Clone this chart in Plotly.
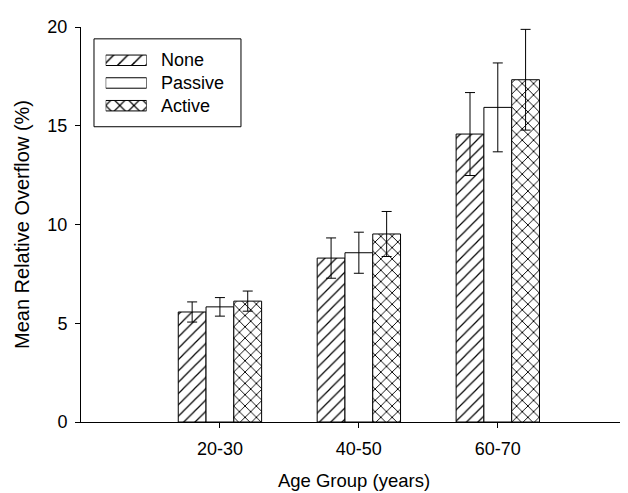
import plotly.graph_objects as go

age_groups = ["20-30", "40-50", "60-70"]
none_vals = [5.57, 8.30, 14.58]
none_err = [0.51, 1.02, 2.10]
passive_vals = [5.83, 8.57, 15.93]
passive_err = [0.47, 1.04, 2.25]
active_vals = [6.12, 9.52, 17.33]
active_err = [0.51, 1.14, 2.55]

series_names = ["None", "Passive", "Active"]
series_shapes = ["/", "", "x"]
series_solidity = [0.15, 0.15, 0.22]
series_vals = [none_vals, passive_vals, active_vals]
series_errs = [none_err, passive_err, active_err]

FONT = "Liberation Sans, Arial, Helvetica, sans-serif"

fig = go.Figure()
for name, vals, errs, shape, sol in zip(series_names, series_vals, series_errs,
                                        series_shapes, series_solidity):
    fig.add_trace(go.Bar(
        name=name, x=age_groups, y=vals, showlegend=False,
        marker=dict(color="white", line=dict(color="black", width=1),
                    pattern=dict(shape=shape, fgcolor="black", bgcolor="white",
                                 size=8, solidity=sol, fillmode="replace")),
        error_y=dict(type="data", array=errs, visible=True, color="black",
                     thickness=1, width=5),
    ))

# custom legend: swatches drawn as a small bar chart on secondary axes
fig.add_trace(go.Bar(
    x=[1, 1, 1], y=series_names, orientation="h", width=0.46,
    xaxis="x2", yaxis="y2", showlegend=False, hoverinfo="skip",
    marker=dict(color="white", line=dict(color="black", width=1),
                pattern=dict(shape=series_shapes, fgcolor="black", bgcolor="white",
                             size=10, solidity=series_solidity, fillmode="replace")),
))
for name in series_names:
    fig.add_annotation(x=0.1434, xref="paper", y=name, yref="y2", text=name,
                       showarrow=False, xanchor="left", yanchor="middle",
                       font=dict(family=FONT, size=18, color="black"))
fig.add_shape(type="rect", xref="paper", yref="paper", x0=0.0238, x1=0.293,
              y0=0.7475, y1=0.97, line=dict(color="black", width=1),
              fillcolor="rgba(0,0,0,0)", layer="above")

font = dict(family=FONT, size=18, color="black")
fig.update_layout(
    width=628, height=493,
    margin=dict(l=73, r=9, t=14, b=79),
    paper_bgcolor="white", plot_bgcolor="white",
    barmode="group", bargap=0.4, bargroupgap=0,
    font=font,
    showlegend=False,
    xaxis=dict(type="category", range=[-1, 2.93], showline=True, linecolor="black",
               linewidth=1, ticks="outside", ticklen=5, tickcolor="black",
               showgrid=False, zeroline=False, ticklabelstandoff=5,
               tickfont=dict(size=18),
               title=dict(text="Age Group (years)", standoff=16, font=dict(size=18.5))),
    yaxis=dict(range=[0, 20], dtick=5, showline=True, linecolor="black",
               linewidth=1, ticks="outside", ticklen=5, tickcolor="black",
               showgrid=False, zeroline=False, ticklabelstandoff=4,
               tickfont=dict(size=18),
               title=dict(text="Mean Relative Overflow (%)", standoff=12, font=dict(size=20))),
    xaxis2=dict(domain=[0.0452, 0.1203], range=[0, 1], anchor="y2",
                visible=False, fixedrange=True),
    yaxis2=dict(domain=[0.772, 0.9445], range=[2.5, -0.5], anchor="x2",
                type="category", visible=False, fixedrange=True),
)

fig.write_html("out.html")
